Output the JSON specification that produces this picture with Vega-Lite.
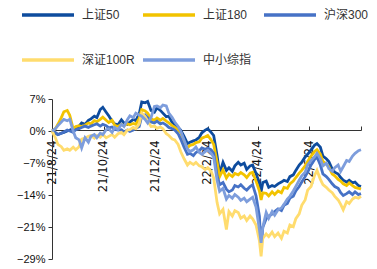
{
"$schema": "https://vega.github.io/schema/vega-lite/v6.json",
"width": 309, "height": 160,
"autosize": {"type": "none"},
"padding": {"left": 52, "top": 99, "right": 16, "bottom": 10},
"background": "white",
"config": {"view": {"stroke": null}, "font": "Liberation Sans"},
"data": {"values": [
{"d":"2021-08-24","s":"上证50","v":0},{"d":"2021-08-24","s":"上证180","v":0},{"d":"2021-08-24","s":"沪深300","v":0},{"d":"2021-08-24","s":"深证100R","v":0},{"d":"2021-08-24","s":"中小综指","v":0},
{"d":"2021-08-28","s":"上证50","v":-0.5},{"d":"2021-08-28","s":"上证180","v":0.5},{"d":"2021-08-28","s":"沪深300","v":-0.3},{"d":"2021-08-28","s":"深证100R","v":-1.5},{"d":"2021-08-28","s":"中小综指","v":0.5},
{"d":"2021-08-31","s":"上证50","v":-0.8},{"d":"2021-08-31","s":"上证180","v":1.5},{"d":"2021-08-31","s":"沪深300","v":-0.8},{"d":"2021-08-31","s":"深证100R","v":-3},{"d":"2021-08-31","s":"中小综指","v":1.2},
{"d":"2021-09-04","s":"上证50","v":-0.5},{"d":"2021-09-04","s":"上证180","v":3},{"d":"2021-09-04","s":"沪深300","v":-0.5},{"d":"2021-09-04","s":"深证100R","v":-3.5},{"d":"2021-09-04","s":"中小综指","v":2},
{"d":"2021-09-07","s":"上证50","v":-0.3},{"d":"2021-09-07","s":"上证180","v":4.3},{"d":"2021-09-07","s":"沪深300","v":-0.2},{"d":"2021-09-07","s":"深证100R","v":-4.3},{"d":"2021-09-07","s":"中小综指","v":2.6},
{"d":"2021-09-11","s":"上证50","v":0},{"d":"2021-09-11","s":"上证180","v":4.6},{"d":"2021-09-11","s":"沪深300","v":0.2},{"d":"2021-09-11","s":"深证100R","v":-4},{"d":"2021-09-11","s":"中小综指","v":2.3},
{"d":"2021-09-14","s":"上证50","v":0.2},{"d":"2021-09-14","s":"上证180","v":3.5},{"d":"2021-09-14","s":"沪深300","v":0},{"d":"2021-09-14","s":"深证100R","v":-4.3},{"d":"2021-09-14","s":"中小综指","v":2.6},
{"d":"2021-09-18","s":"上证50","v":0.5},{"d":"2021-09-18","s":"上证180","v":0.5},{"d":"2021-09-18","s":"沪深300","v":-0.3},{"d":"2021-09-18","s":"深证100R","v":-3.6},{"d":"2021-09-18","s":"中小综指","v":0},
{"d":"2021-09-21","s":"上证50","v":0.3},{"d":"2021-09-21","s":"上证180","v":1},{"d":"2021-09-21","s":"沪深300","v":0.3},{"d":"2021-09-21","s":"深证100R","v":-4.2},{"d":"2021-09-21","s":"中小综指","v":-1.5},
{"d":"2021-09-25","s":"上证50","v":1.1},{"d":"2021-09-25","s":"上证180","v":1.2},{"d":"2021-09-25","s":"沪深300","v":0.5},{"d":"2021-09-25","s":"深证100R","v":-3.5},{"d":"2021-09-25","s":"中小综指","v":-2},
{"d":"2021-09-28","s":"上证50","v":1.8},{"d":"2021-09-28","s":"上证180","v":1},{"d":"2021-09-28","s":"沪深300","v":0.8},{"d":"2021-09-28","s":"深证100R","v":-1.8},{"d":"2021-09-28","s":"中小综指","v":-3.8},
{"d":"2021-10-02","s":"上证50","v":1.5},{"d":"2021-10-02","s":"上证180","v":1.3},{"d":"2021-10-02","s":"沪深300","v":1.1},{"d":"2021-10-02","s":"深证100R","v":-1.6},{"d":"2021-10-02","s":"中小综指","v":-1.5},
{"d":"2021-10-06","s":"上证50","v":2.4},{"d":"2021-10-06","s":"上证180","v":1.8},{"d":"2021-10-06","s":"沪深300","v":0.8},{"d":"2021-10-06","s":"深证100R","v":-1.2},{"d":"2021-10-06","s":"中小综指","v":-2.5},
{"d":"2021-10-09","s":"上证50","v":2.7},{"d":"2021-10-09","s":"上证180","v":1.6},{"d":"2021-10-09","s":"沪深300","v":1.1},{"d":"2021-10-09","s":"深证100R","v":-1},{"d":"2021-10-09","s":"中小综指","v":-1.2},
{"d":"2021-10-13","s":"上证50","v":3.3},{"d":"2021-10-13","s":"上证180","v":2.3},{"d":"2021-10-13","s":"沪深300","v":1.4},{"d":"2021-10-13","s":"深证100R","v":-1.6},{"d":"2021-10-13","s":"中小综指","v":-0.8},
{"d":"2021-10-16","s":"上证50","v":3},{"d":"2021-10-16","s":"上证180","v":2.1},{"d":"2021-10-16","s":"沪深300","v":1.6},{"d":"2021-10-16","s":"深证100R","v":-1},{"d":"2021-10-16","s":"中小综指","v":-1.5},
{"d":"2021-10-20","s":"上证50","v":4.8},{"d":"2021-10-20","s":"上证180","v":2.6},{"d":"2021-10-20","s":"沪深300","v":1.1},{"d":"2021-10-20","s":"深证100R","v":-1.4},{"d":"2021-10-20","s":"中小综指","v":-0.5},
{"d":"2021-10-23","s":"上证50","v":5.3},{"d":"2021-10-23","s":"上证180","v":3.1},{"d":"2021-10-23","s":"沪深300","v":1.5},{"d":"2021-10-23","s":"深证100R","v":-0.8},{"d":"2021-10-23","s":"中小综指","v":-0.8},
{"d":"2021-10-27","s":"上证50","v":4.2},{"d":"2021-10-27","s":"上证180","v":2.4},{"d":"2021-10-27","s":"沪深300","v":1.2},{"d":"2021-10-27","s":"深证100R","v":-1.5},{"d":"2021-10-27","s":"中小综指","v":0.3},
{"d":"2021-10-30","s":"上证50","v":3.4},{"d":"2021-10-30","s":"上证180","v":1.9},{"d":"2021-10-30","s":"沪深300","v":0.7},{"d":"2021-10-30","s":"深证100R","v":-1.2},{"d":"2021-10-30","s":"中小综指","v":0.5},
{"d":"2021-11-03","s":"上证50","v":2.2},{"d":"2021-11-03","s":"上证180","v":2.4},{"d":"2021-11-03","s":"沪深300","v":0.9},{"d":"2021-11-03","s":"深证100R","v":-0.8},{"d":"2021-11-03","s":"中小综指","v":-0.3},
{"d":"2021-11-06","s":"上证50","v":1.6},{"d":"2021-11-06","s":"上证180","v":1.3},{"d":"2021-11-06","s":"沪深300","v":0.4},{"d":"2021-11-06","s":"深证100R","v":-1.4},{"d":"2021-11-06","s":"中小综指","v":0.8},
{"d":"2021-11-10","s":"上证50","v":1.4},{"d":"2021-11-10","s":"上证180","v":1},{"d":"2021-11-10","s":"沪深300","v":0.2},{"d":"2021-11-10","s":"深证100R","v":-0.6},{"d":"2021-11-10","s":"中小综指","v":0.3},
{"d":"2021-11-14","s":"上证50","v":2.5},{"d":"2021-11-14","s":"上证180","v":1.5},{"d":"2021-11-14","s":"沪深300","v":0.3},{"d":"2021-11-14","s":"深证100R","v":-0.3},{"d":"2021-11-14","s":"中小综指","v":1.5},
{"d":"2021-11-17","s":"上证50","v":1.8},{"d":"2021-11-17","s":"上证180","v":1.2},{"d":"2021-11-17","s":"沪深300","v":-0.2},{"d":"2021-11-17","s":"深证100R","v":-0.8},{"d":"2021-11-17","s":"中小综指","v":1},
{"d":"2021-11-21","s":"上证50","v":1.5},{"d":"2021-11-21","s":"上证180","v":1.6},{"d":"2021-11-21","s":"沪深300","v":0.2},{"d":"2021-11-21","s":"深证100R","v":0.2},{"d":"2021-11-21","s":"中小综指","v":2.5},
{"d":"2021-11-24","s":"上证50","v":2},{"d":"2021-11-24","s":"上证180","v":1.4},{"d":"2021-11-24","s":"沪深300","v":-0.1},{"d":"2021-11-24","s":"深证100R","v":0.3},{"d":"2021-11-24","s":"中小综指","v":3.4},
{"d":"2021-11-28","s":"上证50","v":2.6},{"d":"2021-11-28","s":"上证180","v":1.7},{"d":"2021-11-28","s":"沪深300","v":0.2},{"d":"2021-11-28","s":"深证100R","v":0.8},{"d":"2021-11-28","s":"中小综指","v":3},
{"d":"2021-12-01","s":"上证50","v":2.3},{"d":"2021-12-01","s":"上证180","v":1.5},{"d":"2021-12-01","s":"沪深300","v":0.6},{"d":"2021-12-01","s":"深证100R","v":0.5},{"d":"2021-12-01","s":"中小综指","v":4},
{"d":"2021-12-05","s":"上证50","v":3.8},{"d":"2021-12-05","s":"上证180","v":2.8},{"d":"2021-12-05","s":"沪深300","v":1},{"d":"2021-12-05","s":"深证100R","v":1.6},{"d":"2021-12-05","s":"中小综指","v":3.6},
{"d":"2021-12-08","s":"上证50","v":6.5},{"d":"2021-12-08","s":"上证180","v":4.8},{"d":"2021-12-08","s":"沪深300","v":3.3},{"d":"2021-12-08","s":"深证100R","v":4},{"d":"2021-12-08","s":"中小综指","v":3.3},
{"d":"2021-12-12","s":"上证50","v":6.3},{"d":"2021-12-12","s":"上证180","v":4.5},{"d":"2021-12-12","s":"沪深300","v":3.6},{"d":"2021-12-12","s":"深证100R","v":3.2},{"d":"2021-12-12","s":"中小综指","v":2.6},
{"d":"2021-12-15","s":"上证50","v":6.6},{"d":"2021-12-15","s":"上证180","v":4},{"d":"2021-12-15","s":"沪深300","v":3},{"d":"2021-12-15","s":"深证100R","v":2.2},{"d":"2021-12-15","s":"中小综指","v":1.8},
{"d":"2021-12-19","s":"上证50","v":4.6},{"d":"2021-12-19","s":"上证180","v":2.7},{"d":"2021-12-19","s":"沪深300","v":2},{"d":"2021-12-19","s":"深证100R","v":1},{"d":"2021-12-19","s":"中小综指","v":3},
{"d":"2021-12-23","s":"上证50","v":4.2},{"d":"2021-12-23","s":"上证180","v":2.4},{"d":"2021-12-23","s":"沪深300","v":1.8},{"d":"2021-12-23","s":"深证100R","v":1.1},{"d":"2021-12-23","s":"中小综指","v":5.5},
{"d":"2021-12-26","s":"上证50","v":5.2},{"d":"2021-12-26","s":"上证180","v":2.9},{"d":"2021-12-26","s":"沪深300","v":2.2},{"d":"2021-12-26","s":"深证100R","v":0.6},{"d":"2021-12-26","s":"中小综指","v":5.6},
{"d":"2021-12-30","s":"上证50","v":4.6},{"d":"2021-12-30","s":"上证180","v":2.4},{"d":"2021-12-30","s":"沪深300","v":1.6},{"d":"2021-12-30","s":"深证100R","v":0.9},{"d":"2021-12-30","s":"中小综指","v":5.2},
{"d":"2022-01-02","s":"上证50","v":4},{"d":"2022-01-02","s":"上证180","v":2.8},{"d":"2022-01-02","s":"沪深300","v":1.8},{"d":"2022-01-02","s":"深证100R","v":0.5},{"d":"2022-01-02","s":"中小综指","v":5.8},
{"d":"2022-01-06","s":"上证50","v":3.2},{"d":"2022-01-06","s":"上证180","v":2.2},{"d":"2022-01-06","s":"沪深300","v":1.3},{"d":"2022-01-06","s":"深证100R","v":-0.6},{"d":"2022-01-06","s":"中小综指","v":5.6},
{"d":"2022-01-09","s":"上证50","v":3.3},{"d":"2022-01-09","s":"上证180","v":1.8},{"d":"2022-01-09","s":"沪深300","v":0.8},{"d":"2022-01-09","s":"深证100R","v":-1},{"d":"2022-01-09","s":"中小综指","v":4},
{"d":"2022-01-13","s":"上证50","v":1.9},{"d":"2022-01-13","s":"上证180","v":1.2},{"d":"2022-01-13","s":"沪深300","v":0.5},{"d":"2022-01-13","s":"深证100R","v":-1.8},{"d":"2022-01-13","s":"中小综指","v":3},
{"d":"2022-01-16","s":"上证50","v":1.5},{"d":"2022-01-16","s":"上证180","v":0.8},{"d":"2022-01-16","s":"沪深300","v":0.2},{"d":"2022-01-16","s":"深证100R","v":-2},{"d":"2022-01-16","s":"中小综指","v":2},
{"d":"2022-01-20","s":"上证50","v":0.8},{"d":"2022-01-20","s":"上证180","v":0.2},{"d":"2022-01-20","s":"沪深300","v":-0.6},{"d":"2022-01-20","s":"深证100R","v":-3},{"d":"2022-01-20","s":"中小综指","v":1},
{"d":"2022-01-23","s":"上证50","v":0.2},{"d":"2022-01-23","s":"上证180","v":-0.3},{"d":"2022-01-23","s":"沪深300","v":-1.8},{"d":"2022-01-23","s":"深证100R","v":-4.6},{"d":"2022-01-23","s":"中小综指","v":0},
{"d":"2022-01-27","s":"上证50","v":-1.2},{"d":"2022-01-27","s":"上证180","v":-2.5},{"d":"2022-01-27","s":"沪深300","v":-3.6},{"d":"2022-01-27","s":"深证100R","v":-6.2},{"d":"2022-01-27","s":"中小综指","v":-2},
{"d":"2022-01-31","s":"上证50","v":-2.8},{"d":"2022-01-31","s":"上证180","v":-3.8},{"d":"2022-01-31","s":"沪深300","v":-5.2},{"d":"2022-01-31","s":"深证100R","v":-7.6},{"d":"2022-01-31","s":"中小综指","v":-4},
{"d":"2022-02-03","s":"上证50","v":-2.5},{"d":"2022-02-03","s":"上证180","v":-3.2},{"d":"2022-02-03","s":"沪深300","v":-5},{"d":"2022-02-03","s":"深证100R","v":-7},{"d":"2022-02-03","s":"中小综指","v":-4.6},
{"d":"2022-02-07","s":"上证50","v":-2.2},{"d":"2022-02-07","s":"上证180","v":-3},{"d":"2022-02-07","s":"沪深300","v":-5.5},{"d":"2022-02-07","s":"深证100R","v":-7.5},{"d":"2022-02-07","s":"中小综指","v":-4.2},
{"d":"2022-02-10","s":"上证50","v":-2},{"d":"2022-02-10","s":"上证180","v":-2.6},{"d":"2022-02-10","s":"沪深300","v":-4.8},{"d":"2022-02-10","s":"深证100R","v":-7},{"d":"2022-02-10","s":"中小综指","v":-3.6},
{"d":"2022-02-14","s":"上证50","v":-1.4},{"d":"2022-02-14","s":"上证180","v":-2.4},{"d":"2022-02-14","s":"沪深300","v":-4.4},{"d":"2022-02-14","s":"深证100R","v":-7.8},{"d":"2022-02-14","s":"中小综指","v":-4.8},
{"d":"2022-02-17","s":"上证50","v":-0.4},{"d":"2022-02-17","s":"上证180","v":-1.6},{"d":"2022-02-17","s":"沪深300","v":-3.8},{"d":"2022-02-17","s":"深证100R","v":-8},{"d":"2022-02-17","s":"中小综指","v":-5.2},
{"d":"2022-02-21","s":"上证50","v":0.2},{"d":"2022-02-21","s":"上证180","v":-1.3},{"d":"2022-02-21","s":"沪深300","v":-4.1},{"d":"2022-02-21","s":"深证100R","v":-8.6},{"d":"2022-02-21","s":"中小综指","v":-4.6},
{"d":"2022-02-24","s":"上证50","v":0.5},{"d":"2022-02-24","s":"上证180","v":-1},{"d":"2022-02-24","s":"沪深300","v":-3.8},{"d":"2022-02-24","s":"深证100R","v":-8.2},{"d":"2022-02-24","s":"中小综指","v":-4.3},
{"d":"2022-02-28","s":"上证50","v":-0.3},{"d":"2022-02-28","s":"上证180","v":-2},{"d":"2022-02-28","s":"沪深300","v":-4.2},{"d":"2022-02-28","s":"深证100R","v":-9},{"d":"2022-02-28","s":"中小综指","v":-5},
{"d":"2022-03-03","s":"上证50","v":-1},{"d":"2022-03-03","s":"上证180","v":-3},{"d":"2022-03-03","s":"沪深300","v":-5},{"d":"2022-03-03","s":"深证100R","v":-10.5},{"d":"2022-03-03","s":"中小综指","v":-5.8},
{"d":"2022-03-07","s":"上证50","v":-5.5},{"d":"2022-03-07","s":"上证180","v":-7},{"d":"2022-03-07","s":"沪深300","v":-10},{"d":"2022-03-07","s":"深证100R","v":-16},{"d":"2022-03-07","s":"中小综指","v":-11},
{"d":"2022-03-10","s":"上证50","v":-9.5},{"d":"2022-03-10","s":"上证180","v":-10.2},{"d":"2022-03-10","s":"沪深300","v":-12},{"d":"2022-03-10","s":"深证100R","v":-18.5},{"d":"2022-03-10","s":"中小综指","v":-13.5},
{"d":"2022-03-14","s":"上证50","v":-7},{"d":"2022-03-14","s":"上证180","v":-8.7},{"d":"2022-03-14","s":"沪深300","v":-11.5},{"d":"2022-03-14","s":"深证100R","v":-17.5},{"d":"2022-03-14","s":"中小综指","v":-12.8},
{"d":"2022-03-18","s":"上证50","v":-8.8},{"d":"2022-03-18","s":"上证180","v":-10.5},{"d":"2022-03-18","s":"沪深300","v":-13},{"d":"2022-03-18","s":"深证100R","v":-22},{"d":"2022-03-18","s":"中小综指","v":-15.2},
{"d":"2022-03-21","s":"上证50","v":-8.2},{"d":"2022-03-21","s":"上证180","v":-9.6},{"d":"2022-03-21","s":"沪深300","v":-13.6},{"d":"2022-03-21","s":"深证100R","v":-18},{"d":"2022-03-21","s":"中小综指","v":-14.4},
{"d":"2022-03-25","s":"上证50","v":-9},{"d":"2022-03-25","s":"上证180","v":-10.2},{"d":"2022-03-25","s":"沪深300","v":-13.2},{"d":"2022-03-25","s":"深证100R","v":-19},{"d":"2022-03-25","s":"中小综指","v":-15},
{"d":"2022-03-28","s":"上证50","v":-7.8},{"d":"2022-03-28","s":"上证180","v":-9.5},{"d":"2022-03-28","s":"沪深300","v":-12.2},{"d":"2022-03-28","s":"深证100R","v":-17.8},{"d":"2022-03-28","s":"中小综指","v":-14.2},
{"d":"2022-04-01","s":"上证50","v":-7},{"d":"2022-04-01","s":"上证180","v":-9.8},{"d":"2022-04-01","s":"沪深300","v":-12.5},{"d":"2022-04-01","s":"深证100R","v":-18.2},{"d":"2022-04-01","s":"中小综指","v":-14.8},
{"d":"2022-04-04","s":"上证50","v":-7.6},{"d":"2022-04-04","s":"上证180","v":-9.3},{"d":"2022-04-04","s":"沪深300","v":-12},{"d":"2022-04-04","s":"深证100R","v":-19.5},{"d":"2022-04-04","s":"中小综指","v":-15.5},
{"d":"2022-04-08","s":"上证50","v":-7.2},{"d":"2022-04-08","s":"上证180","v":-9.8},{"d":"2022-04-08","s":"沪深300","v":-12.8},{"d":"2022-04-08","s":"深证100R","v":-19},{"d":"2022-04-08","s":"中小综指","v":-15},
{"d":"2022-04-11","s":"上证50","v":-8.6},{"d":"2022-04-11","s":"上证180","v":-10.4},{"d":"2022-04-11","s":"沪深300","v":-13.2},{"d":"2022-04-11","s":"深证100R","v":-20},{"d":"2022-04-11","s":"中小综指","v":-15.8},
{"d":"2022-04-15","s":"上证50","v":-7.8},{"d":"2022-04-15","s":"上证180","v":-9.4},{"d":"2022-04-15","s":"沪深300","v":-12.4},{"d":"2022-04-15","s":"深证100R","v":-19},{"d":"2022-04-15","s":"中小综指","v":-15.2},
{"d":"2022-04-18","s":"上证50","v":-7.6},{"d":"2022-04-18","s":"上证180","v":-9.2},{"d":"2022-04-18","s":"沪深300","v":-12},{"d":"2022-04-18","s":"深证100R","v":-19.6},{"d":"2022-04-18","s":"中小综指","v":-14.8},
{"d":"2022-04-22","s":"上证50","v":-9.5},{"d":"2022-04-22","s":"上证180","v":-11.2},{"d":"2022-04-22","s":"沪深300","v":-14.5},{"d":"2022-04-22","s":"深证100R","v":-21},{"d":"2022-04-22","s":"中小综指","v":-17},
{"d":"2022-04-26","s":"上证50","v":-11.6},{"d":"2022-04-26","s":"上证180","v":-13.4},{"d":"2022-04-26","s":"沪深300","v":-19},{"d":"2022-04-26","s":"深证100R","v":-24.5},{"d":"2022-04-26","s":"中小综指","v":-22},
{"d":"2022-04-28","s":"上证50","v":-13.6},{"d":"2022-04-28","s":"上证180","v":-15.4},{"d":"2022-04-28","s":"沪深300","v":-26.4},{"d":"2022-04-28","s":"深证100R","v":-28},{"d":"2022-04-28","s":"中小综指","v":-25},
{"d":"2022-04-30","s":"上证50","v":-11.5},{"d":"2022-04-30","s":"上证180","v":-13.8},{"d":"2022-04-30","s":"沪深300","v":-21.5},{"d":"2022-04-30","s":"深证100R","v":-24},{"d":"2022-04-30","s":"中小综指","v":-21.5},
{"d":"2022-05-04","s":"上证50","v":-11.2},{"d":"2022-05-04","s":"上证180","v":-13.9},{"d":"2022-05-04","s":"沪深300","v":-19.6},{"d":"2022-05-04","s":"深证100R","v":-23},{"d":"2022-05-04","s":"中小综指","v":-18.2},
{"d":"2022-05-07","s":"上证50","v":-12.6},{"d":"2022-05-07","s":"上证180","v":-14.5},{"d":"2022-05-07","s":"沪深300","v":-19},{"d":"2022-05-07","s":"深证100R","v":-23.6},{"d":"2022-05-07","s":"中小综指","v":-19.5},
{"d":"2022-05-11","s":"上证50","v":-12.2},{"d":"2022-05-11","s":"上证180","v":-13.6},{"d":"2022-05-11","s":"沪深300","v":-18.6},{"d":"2022-05-11","s":"深证100R","v":-22.6},{"d":"2022-05-11","s":"中小综指","v":-18},
{"d":"2022-05-14","s":"上证50","v":-12.4},{"d":"2022-05-14","s":"上证180","v":-14.2},{"d":"2022-05-14","s":"沪深300","v":-18},{"d":"2022-05-14","s":"深证100R","v":-23.6},{"d":"2022-05-14","s":"中小综指","v":-18.8},
{"d":"2022-05-18","s":"上证50","v":-11.8},{"d":"2022-05-18","s":"上证180","v":-13.4},{"d":"2022-05-18","s":"沪深300","v":-17.4},{"d":"2022-05-18","s":"深证100R","v":-22.8},{"d":"2022-05-18","s":"中小综指","v":-17.6},
{"d":"2022-05-22","s":"上证50","v":-11.4},{"d":"2022-05-22","s":"上证180","v":-13.8},{"d":"2022-05-22","s":"沪深300","v":-17.8},{"d":"2022-05-22","s":"深证100R","v":-24},{"d":"2022-05-22","s":"中小综指","v":-17.2},
{"d":"2022-05-25","s":"上证50","v":-11},{"d":"2022-05-25","s":"上证180","v":-12.6},{"d":"2022-05-25","s":"沪深300","v":-16.6},{"d":"2022-05-25","s":"深证100R","v":-22.4},{"d":"2022-05-25","s":"中小综指","v":-16.4},
{"d":"2022-05-29","s":"上证50","v":-11.3},{"d":"2022-05-29","s":"上证180","v":-12.8},{"d":"2022-05-29","s":"沪深300","v":-16.2},{"d":"2022-05-29","s":"深证100R","v":-22.8},{"d":"2022-05-29","s":"中小综指","v":-15.2},
{"d":"2022-06-01","s":"上证50","v":-10.2},{"d":"2022-06-01","s":"上证180","v":-11.8},{"d":"2022-06-01","s":"沪深300","v":-15},{"d":"2022-06-01","s":"深证100R","v":-21},{"d":"2022-06-01","s":"中小综指","v":-14.6},
{"d":"2022-06-05","s":"上证50","v":-9.8},{"d":"2022-06-05","s":"上证180","v":-11.2},{"d":"2022-06-05","s":"沪深300","v":-14.6},{"d":"2022-06-05","s":"深证100R","v":-21.4},{"d":"2022-06-05","s":"中小综指","v":-13.4},
{"d":"2022-06-08","s":"上证50","v":-8.8},{"d":"2022-06-08","s":"上证180","v":-10.4},{"d":"2022-06-08","s":"沪深300","v":-13.4},{"d":"2022-06-08","s":"深证100R","v":-19.6},{"d":"2022-06-08","s":"中小综指","v":-12.4},
{"d":"2022-06-12","s":"上证50","v":-7.6},{"d":"2022-06-12","s":"上证180","v":-9.4},{"d":"2022-06-12","s":"沪深300","v":-12.4},{"d":"2022-06-12","s":"深证100R","v":-18.5},{"d":"2022-06-12","s":"中小综指","v":-11},
{"d":"2022-06-15","s":"上证50","v":-7},{"d":"2022-06-15","s":"上证180","v":-8.8},{"d":"2022-06-15","s":"沪深300","v":-11.4},{"d":"2022-06-15","s":"深证100R","v":-16.6},{"d":"2022-06-15","s":"中小综指","v":-10},
{"d":"2022-06-19","s":"上证50","v":-5.8},{"d":"2022-06-19","s":"上证180","v":-7.8},{"d":"2022-06-19","s":"沪深300","v":-10.2},{"d":"2022-06-19","s":"深证100R","v":-15.4},{"d":"2022-06-19","s":"中小综指","v":-9.2},
{"d":"2022-06-22","s":"上证50","v":-5.2},{"d":"2022-06-22","s":"上证180","v":-6.8},{"d":"2022-06-22","s":"沪深300","v":-9.2},{"d":"2022-06-22","s":"深证100R","v":-13.2},{"d":"2022-06-22","s":"中小综指","v":-7.6},
{"d":"2022-06-26","s":"上证50","v":-4.2},{"d":"2022-06-26","s":"上证180","v":-5.6},{"d":"2022-06-26","s":"沪深300","v":-7.6},{"d":"2022-06-26","s":"深证100R","v":-12.4},{"d":"2022-06-26","s":"中小综指","v":-6.6},
{"d":"2022-06-30","s":"上证50","v":-3.2},{"d":"2022-06-30","s":"上证180","v":-4.6},{"d":"2022-06-30","s":"沪深300","v":-6.4},{"d":"2022-06-30","s":"深证100R","v":-10},{"d":"2022-06-30","s":"中小综指","v":-5.8},
{"d":"2022-07-03","s":"上证50","v":-2.8},{"d":"2022-07-03","s":"上证180","v":-4.2},{"d":"2022-07-03","s":"沪深300","v":-5.8},{"d":"2022-07-03","s":"深证100R","v":-8.8},{"d":"2022-07-03","s":"中小综指","v":-5},
{"d":"2022-07-07","s":"上证50","v":-3.6},{"d":"2022-07-07","s":"上证180","v":-5.2},{"d":"2022-07-07","s":"沪深300","v":-7.6},{"d":"2022-07-07","s":"深证100R","v":-10.8},{"d":"2022-07-07","s":"中小综指","v":-6.2},
{"d":"2022-07-10","s":"上证50","v":-5.6},{"d":"2022-07-10","s":"上证180","v":-6.8},{"d":"2022-07-10","s":"沪深300","v":-9.6},{"d":"2022-07-10","s":"深证100R","v":-12},{"d":"2022-07-10","s":"中小综指","v":-7.8},
{"d":"2022-07-14","s":"上证50","v":-6.2},{"d":"2022-07-14","s":"上证180","v":-7.4},{"d":"2022-07-14","s":"沪深300","v":-10.2},{"d":"2022-07-14","s":"深证100R","v":-12.6},{"d":"2022-07-14","s":"中小综指","v":-7.2},
{"d":"2022-07-17","s":"上证50","v":-6.8},{"d":"2022-07-17","s":"上证180","v":-8},{"d":"2022-07-17","s":"沪深300","v":-10.8},{"d":"2022-07-17","s":"深证100R","v":-13.2},{"d":"2022-07-17","s":"中小综指","v":-8.4},
{"d":"2022-07-21","s":"上证50","v":-8.5},{"d":"2022-07-21","s":"上证180","v":-9.6},{"d":"2022-07-21","s":"沪深300","v":-11.8},{"d":"2022-07-21","s":"深证100R","v":-13.8},{"d":"2022-07-21","s":"中小综指","v":-9},
{"d":"2022-07-24","s":"上证50","v":-9.2},{"d":"2022-07-24","s":"上证180","v":-10},{"d":"2022-07-24","s":"沪深300","v":-12.4},{"d":"2022-07-24","s":"深证100R","v":-14.6},{"d":"2022-07-24","s":"中小综指","v":-8.2},
{"d":"2022-07-28","s":"上证50","v":-9.6},{"d":"2022-07-28","s":"上证180","v":-10.8},{"d":"2022-07-28","s":"沪深300","v":-12.8},{"d":"2022-07-28","s":"深证100R","v":-15.4},{"d":"2022-07-28","s":"中小综指","v":-7.6},
{"d":"2022-07-31","s":"上证50","v":-10.4},{"d":"2022-07-31","s":"上证180","v":-11.2},{"d":"2022-07-31","s":"沪深300","v":-13.8},{"d":"2022-07-31","s":"深证100R","v":-16.4},{"d":"2022-07-31","s":"中小综指","v":-9},
{"d":"2022-08-03","s":"上证50","v":-11},{"d":"2022-08-03","s":"上证180","v":-11.8},{"d":"2022-08-03","s":"沪深300","v":-14.4},{"d":"2022-08-03","s":"深证100R","v":-17.6},{"d":"2022-08-03","s":"中小综指","v":-8},
{"d":"2022-08-07","s":"上证50","v":-11.4},{"d":"2022-08-07","s":"上证180","v":-12.2},{"d":"2022-08-07","s":"沪深300","v":-14},{"d":"2022-08-07","s":"深证100R","v":-15.8},{"d":"2022-08-07","s":"中小综指","v":-6.6},
{"d":"2022-08-10","s":"上证50","v":-11},{"d":"2022-08-10","s":"上证180","v":-11.6},{"d":"2022-08-10","s":"沪深300","v":-13.6},{"d":"2022-08-10","s":"深证100R","v":-16.2},{"d":"2022-08-10","s":"中小综指","v":-6.8},
{"d":"2022-08-14","s":"上证50","v":-11.6},{"d":"2022-08-14","s":"上证180","v":-12.2},{"d":"2022-08-14","s":"沪深300","v":-14.2},{"d":"2022-08-14","s":"深证100R","v":-15.2},{"d":"2022-08-14","s":"中小综指","v":-5.6},
{"d":"2022-08-17","s":"上证50","v":-11.4},{"d":"2022-08-17","s":"上证180","v":-12.6},{"d":"2022-08-17","s":"沪深300","v":-13.6},{"d":"2022-08-17","s":"深证100R","v":-14.8},{"d":"2022-08-17","s":"中小综指","v":-5},
{"d":"2022-08-21","s":"上证50","v":-12.2},{"d":"2022-08-21","s":"上证180","v":-12.8},{"d":"2022-08-21","s":"沪深300","v":-14.2},{"d":"2022-08-21","s":"深证100R","v":-15},{"d":"2022-08-21","s":"中小综指","v":-4.4},
{"d":"2022-08-24","s":"上证50","v":-12.4},{"d":"2022-08-24","s":"上证180","v":-13},{"d":"2022-08-24","s":"沪深300","v":-14},{"d":"2022-08-24","s":"深证100R","v":-14.6},{"d":"2022-08-24","s":"中小综指","v":-4.2}
]},
"mark": {"type": "line", "strokeWidth": 2.8, "interpolate": "linear"},
"encoding": {
  "x": {"field": "d", "type": "temporal",
    "scale": {"type": "utc", "domain": [{"year": 2021, "month": 8, "date": 24, "utc": true}, {"year": 2022, "month": 8, "date": 24, "utc": true}]},
    "axis": {"orient": "bottom", "offset": -129, "title": null, "grid": false,
      "values": [{"year": 2021, "month": 8, "date": 24, "utc": true}, {"year": 2021, "month": 10, "date": 24, "utc": true}, {"year": 2021, "month": 12, "date": 24, "utc": true}, {"year": 2022, "month": 2, "date": 24, "utc": true}, {"year": 2022, "month": 4, "date": 24, "utc": true}, {"year": 2022, "month": 6, "date": 24, "utc": true}, {"year": 2022, "month": 8, "date": 24, "utc": true}],
      "labelExpr": "datum.value > 1660000000000 ? '' : utcFormat(datum.value, '%y/%-m/%d')",
      "labelAngle": -90, "labelAlign": "right", "labelBaseline": "middle", "tickSize": -4, "labelPadding": 14, "labelOverlap": false, "labelBound": false, "labelFlush": false,
      "domainColor": "#333333", "tickColor": "#333333", "labelColor": "#111111", "labelFontSize": 11.5, "labelFont": "DejaVu Sans"}},
  "y": {"field": "v", "type": "quantitative",
    "scale": {"domain": [-28.6, 7.15], "nice": false, "zero": false},
    "axis": {"title": null, "grid": false, "values": [7.15, 0, -7.15, -14.3, -21.45, -28.6],
      "labelExpr": "format(datum.value, '.0f') + '%'", "tickSize": 4, "labelPadding": 3,
      "domainColor": "#333333", "tickColor": "#333333", "labelColor": "#111111", "labelFontSize": 11, "labelFont": "Liberation Sans", "labelFlush": false, "labelOverlap": false}},
  "color": {"field": "s", "type": "nominal",
    "scale": {"domain": ["上证50", "上证180", "沪深300", "深证100R", "中小综指"], "range": ["#0e4c9e", "#f2c300", "#4672c6", "#ffdc6e", "#7d9ddc"]},
    "legend": {"orient": "none", "legendX": -32, "legendY": -112, "direction": "horizontal", "columns": 3, "title": null,
      "symbolType": "stroke", "symbolSize": 2704, "symbolStrokeWidth": 3.5, "labelFontSize": 12,
      "labelFont": "Liberation Sans, Noto Sans CJK SC", "labelColor": "#333333", "columnPadding": 1, "rowPadding": 10,
      "gridAlign": "all", "labelOffset": 6, "padding": 0}}
}
}
